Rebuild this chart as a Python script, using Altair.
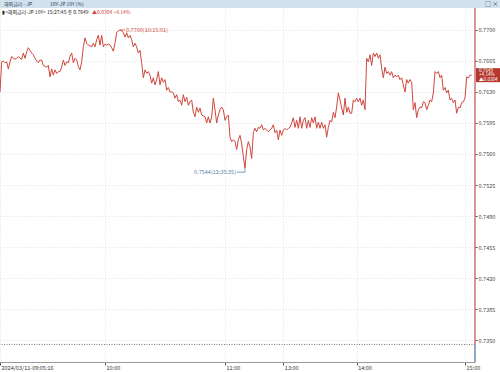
import altair as alt
import pandas as pd

# 10Y JGB yield ticks (%), in sequence
values_a = [0.7630, 0.7664, 0.7665, 0.7663, 0.7664, 0.7656, 0.7664, 0.7670, 0.7668, 0.7667,
            0.7668, 0.7670, 0.7668, 0.7667, 0.7674, 0.7668, 0.7675, 0.7680, 0.7677, 0.7674,
            0.7672, 0.7668, 0.7665, 0.7663, 0.7666, 0.7666, 0.7660, 0.7659, 0.7658, 0.7660,
            0.7647, 0.7656, 0.7649, 0.7655, 0.7651, 0.7653, 0.7653, 0.7658, 0.7666, 0.7660,
            0.7664, 0.7663, 0.7670, 0.7674, 0.7663, 0.7668, 0.7666, 0.7659, 0.7655, 0.7664,
            0.7681, 0.7691, 0.7685, 0.7683, 0.7682, 0.7681, 0.7685, 0.7681, 0.7689, 0.7694,
            0.7683, 0.7694, 0.7681, 0.7684, 0.7683, 0.7684, 0.7683, 0.7680, 0.7676, 0.7685,
            0.7697, 0.7699]
values_b = [0.7700, 0.7699, 0.7697, 0.7692, 0.7697, 0.7691, 0.7694, 0.7689, 0.7681, 0.7685,
            0.7681, 0.7674, 0.7677, 0.7663, 0.7646, 0.7655, 0.7651, 0.7653, 0.7649, 0.7640,
            0.7646, 0.7638, 0.7644, 0.7653, 0.7638, 0.7646, 0.7641, 0.7644, 0.7632, 0.7635,
            0.7630, 0.7630, 0.7629, 0.7623, 0.7627, 0.7619, 0.7621, 0.7615, 0.7627, 0.7619,
            0.7624, 0.7615, 0.7619, 0.7621, 0.7607, 0.7602, 0.7613, 0.7607, 0.7612, 0.7604,
            0.7603, 0.7602, 0.7595, 0.7602, 0.7595, 0.7602, 0.7623, 0.7610, 0.7595, 0.7604,
            0.7610, 0.7613, 0.7610, 0.7598, 0.7602, 0.7604, 0.7579, 0.7574, 0.7576]
values_c = [0.7574, 0.7565, 0.7576, 0.7581, 0.7572, 0.7557, 0.7544, 0.7565, 0.7574, 0.7568,
            0.7555, 0.7584, 0.7589, 0.7585, 0.7590, 0.7589, 0.7593, 0.7587, 0.7589, 0.7587,
            0.7585, 0.7587, 0.7589, 0.7593, 0.7584, 0.7587, 0.7576, 0.7587, 0.7581, 0.7587,
            0.7589, 0.7587, 0.7589, 0.7590, 0.7595, 0.7601, 0.7590, 0.7598, 0.7589, 0.7602,
            0.7589, 0.7598, 0.7601, 0.7589, 0.7598, 0.7590, 0.7601, 0.7595, 0.7602, 0.7589,
            0.7596, 0.7589, 0.7596, 0.7589, 0.7593, 0.7579, 0.7590, 0.7598, 0.7596, 0.7607,
            0.7601, 0.7613, 0.7629, 0.7621, 0.7612, 0.7604, 0.7623, 0.7607, 0.7613, 0.7606]
values_d = [0.7606, 0.7621, 0.7619, 0.7623, 0.7619, 0.7623, 0.7615, 0.7621, 0.7610, 0.7668,
            0.7664, 0.7672, 0.7660, 0.7674, 0.7670, 0.7674, 0.7668, 0.7672, 0.7657, 0.7646,
            0.7658, 0.7651, 0.7653, 0.7649, 0.7653, 0.7646, 0.7649, 0.7647, 0.7649, 0.7644,
            0.7646, 0.7638, 0.7630, 0.7644, 0.7640, 0.7644, 0.7641, 0.7610, 0.7618, 0.7601,
            0.7610, 0.7613, 0.7612, 0.7619, 0.7618, 0.7610, 0.7615, 0.7621, 0.7619, 0.7629,
            0.7653, 0.7651, 0.7653, 0.7646, 0.7649, 0.7632, 0.7635, 0.7629, 0.7632, 0.7621,
            0.7623, 0.7618, 0.7621, 0.7606, 0.7613, 0.7612, 0.7618, 0.7619, 0.7623, 0.7647,
            0.7646, 0.7649, 0.7649]

values = values_a + values_b + values_c + values_d
idx = list(range(len(values)))

x_tick_idx = [0, 63, 135, 170, 214, 279]
x_tick_labels = ["2024/03/11-09:05:16", "10:00", "11:00", "13:00", "14:00", "15:00"]
y_ticks = [0.7350, 0.7385, 0.7420, 0.7455, 0.7490, 0.7525, 0.7560, 0.7595, 0.7630, 0.7665, 0.7700]

prev_close = 0.7345
last_value = 0.7649
last_time = "15:27:45"
change_txt = "▲0.0304"
pct_txt = "+4.14%"
hi_time = "10:15:01"
lo_time = "12:35:35"

header_left = "해외금리 - JP"
header_mid = "10Y-JP 10Y (%)"
legend_main = "▮<해외금리-JP 10Y> " + last_time + " 종 " + f"{last_value:.4f}"
legend_chg = change_txt + "  " + pct_txt

FONT = "Noto Sans CJK KR"
RED = "#d0463c"
BLUE = "#5b7fa6"

df = pd.DataFrame({"idx": idx, "value": values})

xs = alt.Scale(domain=[0, 285], nice=False, zero=False)
ys = alt.Scale(domain=[0.73252, 0.77248], nice=False, zero=False)

label_expr = ""
for t, l in zip(x_tick_idx, x_tick_labels):
    label_expr += f"datum.value == {t} ? '{l}' : "
label_expr += "''"

x_axis = alt.Axis(values=x_tick_idx, labelExpr=label_expr, orient="bottom", title=None,
                  tickCount=20,
                  grid=True, gridColor="#d9d9d9", gridDash=[1, 2], gridWidth=0.8,
                  domainColor="#9a9a9a", domainWidth=1, tickColor="#555", tickSize=3,
                  labelAlign="left", labelBaseline="top", labelPadding=0, labelOffset=1,
                  labelFontSize=5.5, labelColor="#333", labelFont=FONT, labelFlush=False,
                  labelOverlap=False)
y_axis = alt.Axis(values=y_ticks, format=".4f", orient="right", title=None,
                  tickCount=20,
                  grid=True, gridColor="#d9d9d9", gridDash=[1, 2], gridWidth=0.8,
                  domain=False, tickColor="#555", tickSize=2, labelPadding=1,
                  labelFontSize=5.5, labelColor="#444", labelFont=FONT,
                  labelOverlap=False)

line = alt.Chart(df).mark_line(color=RED, strokeWidth=1).encode(
    x=alt.X("idx:Q", scale=xs, axis=x_axis),
    y=alt.Y("value:Q", scale=ys, axis=y_axis),
)

pc = pd.DataFrame({"v": [prev_close]})
prev_rule = alt.Chart(pc).mark_rule(color="#555", strokeDash=[1, 1.5], strokeWidth=0.8).encode(
    y=alt.Y("v:Q", scale=ys)
)
axis_red = alt.Chart(pc).mark_rule(color="#c0504d", strokeWidth=1.2).encode(
    x=alt.value(475), y=alt.Y("v:Q", scale=ys), y2=alt.value(0)
)
axis_blue = alt.Chart(pc).mark_rule(color="#4a6fa5", strokeWidth=1.2).encode(
    x=alt.value(475), y=alt.Y("v:Q", scale=ys), y2=alt.value(354)
)

# high / low annotations
hi_v = max(values)
hi_i = values.index(hi_v)
lo_v = min(values)
lo_i = values.index(lo_v)
hi_df = pd.DataFrame({"idx": [hi_i], "idx2": [hi_i + 3], "v": [hi_v],
                      "t": [f"{hi_v:.4f}({hi_time})"]})
lo_df = pd.DataFrame({"idx": [lo_i], "idx2": [lo_i - 5], "v": [lo_v], "v2": [lo_v - 0.00045],
                      "t": [f"{lo_v:.4f}({lo_time})"]})

hi_rule = alt.Chart(hi_df).mark_rule(color=RED, strokeWidth=0.8).encode(
    x=alt.X("idx:Q", scale=xs), x2="idx2:Q", y=alt.Y("v:Q", scale=ys))
hi_text = alt.Chart(hi_df).mark_text(color=RED, fontSize=5.5, align="left", baseline="middle",
                                     dx=6, font=FONT).encode(
    x=alt.X("idx:Q", scale=xs), y=alt.Y("v:Q", scale=ys), text="t:N")
lo_rule_h = alt.Chart(lo_df).mark_rule(color=BLUE, strokeWidth=0.8).encode(
    x=alt.X("idx2:Q", scale=xs), x2="idx:Q", y=alt.Y("v2:Q", scale=ys))
lo_rule_v = alt.Chart(lo_df).mark_rule(color=BLUE, strokeWidth=0.8).encode(
    x=alt.X("idx:Q", scale=xs), y=alt.Y("v:Q", scale=ys), y2="v2:Q")
lo_text = alt.Chart(lo_df).mark_text(color=BLUE, fontSize=5.5, align="right", baseline="middle",
                                     dx=-9, dy=4, font=FONT).encode(
    x=alt.X("idx:Q", scale=xs), y=alt.Y("v:Q", scale=ys), text="t:N")

# last price box on the right axis
box_df = pd.DataFrame({"v": [last_value], "top": [last_value + 0.00079],
                       "bot": [last_value - 0.00079],
                       "l1": [f"{last_value:.4f}"], "l2": [pct_txt], "l3": [change_txt]})
box = alt.Chart(box_df).mark_rect(color="#b5362c").encode(
    x=alt.value(476), x2=alt.value(500), y=alt.Y("top:Q", scale=ys), y2="bot:Q")
box_texts = [
    alt.Chart(box_df).mark_text(color="white", fontSize=4.6, align="left", baseline="middle",
                                dy=d, font=FONT).encode(
        x=alt.value(479), y=alt.Y("v:Q", scale=ys), text=f"{c}:N")
    for c, d in [("l1", -4.5), ("l2", 0), ("l3", 4.5)]
]

# header chrome
one = pd.DataFrame({"a": [0]})
top_bar = alt.Chart(one).mark_rect(color="#d3e2ef").encode(
    x=alt.value(0), x2=alt.value(500), y=alt.value(-8), y2=alt.value(0))
hdr1 = alt.Chart(one).mark_text(text=header_left, fontSize=5, color="#2b3a55", align="left",
                                baseline="middle", font=FONT).encode(x=alt.value(4), y=alt.value(-4.5))
hdr2 = alt.Chart(one).mark_text(text=header_mid, fontSize=5, color="#2b3a55", align="left",
                                baseline="middle", font=FONT).encode(x=alt.value(50), y=alt.value(-4.5))
hdr3 = alt.Chart(one).mark_text(text="□ ×", fontSize=6, color="#2b3a55", align="left",
                                baseline="middle", font=FONT).encode(x=alt.value(485), y=alt.value(-4.5))
leg1 = alt.Chart(one).mark_text(text=legend_main, fontSize=5, color="#222", align="left",
                                baseline="middle", font=FONT).encode(x=alt.value(2), y=alt.value(4))
leg2 = alt.Chart(one).mark_text(text=legend_chg, fontSize=5, color=RED, align="left",
                                baseline="middle", font=FONT).encode(x=alt.value(92), y=alt.value(4))

chart = alt.layer(
    line, prev_rule, axis_red, axis_blue, hi_rule, hi_text, lo_rule_h, lo_rule_v, lo_text,
    box, *box_texts, top_bar, hdr1, hdr2, hdr3, leg1, leg2
).properties(
    width=475, height=354,
    autosize=alt.AutoSizeParams(type="none"),
    padding={"left": 0, "top": 8, "right": 25, "bottom": 10},
    background="white",
).configure_view(stroke=None)

chart.save("out.html", embed_options={"renderer": "svg", "actions": False})
